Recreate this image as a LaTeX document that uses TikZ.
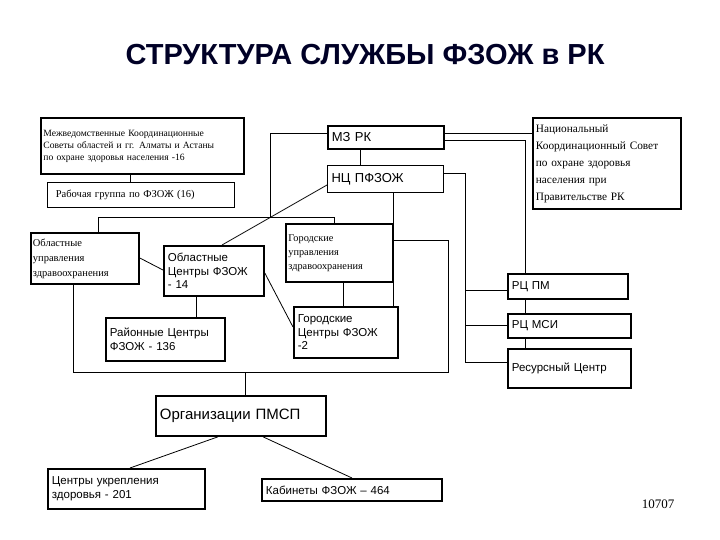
\documentclass[tikz,border=0pt]{standalone}
\usepackage{fontspec}
\setmainfont{Liberation Serif}
\newfontfamily\arial{Liberation Sans}
\begin{document}
\begin{tikzpicture}[x=1pt,y=-1pt,
  bx/.style={draw,line width=1.8pt,anchor=north west,inner sep=3pt,align=left,font=\arial\fontsize{11.5}{13.5}\selectfont},
  sbx/.style={bx,font=\fontsize{9.5}{12}\selectfont},
  ln/.style={line width=0.8pt}]
\useasboundingbox (0,0) rectangle (720,540);
\node[font=\arial\bfseries\fontsize{29}{32}\selectfont,text=black!85!blue] (title) at (365,55) {СТРУКТУРА СЛУЖБЫ ФЗОЖ в РК};
\node[sbx,minimum width=203pt,minimum height=56pt,text width=198pt,inner xsep=2pt,font=\fontsize{9.6}{12}\selectfont] (mezh) at (40,117) {Межведомственные Координационные\\Советы областей и гг. Алматы и Астаны\\по охране здоровья населения -16\\[8pt]};
\node[sbx,line width=0.8pt,minimum width=187pt,minimum height=25pt,text width=180pt,font=\fontsize{10.5}{12}\selectfont] (rab) at (47,182) {\hspace{5pt}Рабочая группа по ФЗОЖ (16)};
\node[bx,minimum width=116pt,minimum height=23pt,text width=108pt,font=\arial\fontsize{13}{15}\selectfont] (mz) at (327,125) {МЗ РК};
\node[bx,line width=1.2pt,minimum width=116pt,minimum height=27pt,text width=108pt,font=\arial\fontsize{13}{15}\selectfont] (nc) at (327,165) {НЦ ПФЗОЖ};
\node[sbx,minimum width=148pt,minimum height=91pt,text width=142pt,inner xsep=2pt,font=\fontsize{11.3}{17}\selectfont] (nac) at (532,117) {Национальный\\Координационный Совет\\по охране здоровья\\населения при\\Правительстве РК};
\node[sbx,minimum width=108pt,minimum height=51pt,text width=104pt,inner xsep=1pt,font=\fontsize{10.5}{15}\selectfont] (oblu) at (30,232) {Областные\\управления\\здравоохранения};
\node[bx,minimum width=100pt,minimum height=50pt,text width=92pt] (oblc) at (163,245) {Областные\\Центры ФЗОЖ\\- 14};
\node[sbx,minimum width=107pt,minimum height=58pt,text width=102pt,inner xsep=2pt,font=\fontsize{10.3}{14}\selectfont] (goru) at (285,223) {Городские\\управления\\здравоохранения\\[6pt]};
\node[bx,minimum width=104pt,minimum height=51pt,text width=96pt] (gorc) at (293,306) {Городские\\Центры ФЗОЖ\\-2};
\node[bx,minimum width=119pt,minimum height=43pt,text width=111pt] (raion) at (105,317) {Районные Центры\\ФЗОЖ - 136};
\node[bx,minimum width=120pt,minimum height=25pt,text width=112pt] (rcpm) at (507,273) {РЦ ПМ};
\node[bx,minimum width=123pt,minimum height=24pt,text width=115pt] (rcmsi) at (507,313) {РЦ МСИ};
\node[bx,minimum width=123pt,minimum height=39pt,text width=115pt] (res) at (507,348) {Ресурсный Центр\\[10pt]};
\node[bx,minimum width=170pt,minimum height=40pt,text width=162pt,font=\arial\fontsize{15}{17}\selectfont] (org) at (155,395) {Организации ПМСП\\[12pt]};
\node[bx,minimum width=157pt,minimum height=40pt,text width=149pt] (ukr) at (47,468) {Центры укрепления\\здоровья - 201};
\node[bx,minimum width=180pt,minimum height=22pt,text width=172pt] (kab) at (261,478) {Кабинеты ФЗОЖ – 464};
\node[font=\fontsize{13}{15}\selectfont,anchor=east] (num) at (678,504) {10707};
% connectors
\coordinate (b1) at (98,217); \coordinate (b2) at (334,217); \coordinate (b3) at (270,217);
\draw[ln] (130,0 |- mezh.south) -- (130,0 |- rab.north);
\draw[ln] (mz.west |- 0,133) -- (270,133) -- (b3);
\draw[ln] (98,0 |- oblu.north) -- (b1) -- (b2) -- (334,0 |- goru.north);
\draw[ln] (360,0 |- mz.south) -- (360,0 |- nc.north);
\draw[ln] (nc.west |- 0,185) -- (222,0 |- oblc.north);
\draw[ln] (oblu.east |- 0,258) -- (oblc.west |- 0,270);
\draw[ln] (oblc.east |- 0,273) -- (gorc.west |- 0,327);
\draw[ln] (196,0 |- oblc.south) -- (196,0 |- raion.north);
\draw[ln] (343,0 |- goru.south) -- (343,0 |- gorc.north);
\draw[ln] (393,0 |- nc.south) -- (393,0 |- gorc.north);
\coordinate (r1) at (448,240); \coordinate (r2) at (448,372); \coordinate (l2) at (73,372);
\draw[ln] (goru.east |- r1) -- (r1) -- (r2) -- (l2) -- (73,0 |- oblu.south);
\draw[ln] (245,0 |- r2) -- (245,0 |- org.north);
\draw[ln] (mz.east |- 0,133) -- (nac.west |- 0,133);
\draw[ln] (mz.east |- 0,140) -- (525,140) -- (525,0 |- rcpm.north);
\coordinate (v1) at (465,173); \coordinate (v2) at (465,362);
\draw[ln] (nc.east |- v1) -- (v1) -- (v2) -- (res.west |- v2);
\draw[ln] (465,290) -- (rcpm.west |- 0,290);
\draw[ln] (465,325) -- (rcmsi.west |- 0,325);
\draw[ln] (525,0 |- rcpm.south) -- (525,0 |- rcmsi.north);
\draw[ln] (525,0 |- rcmsi.south) -- (525,0 |- res.north);
\draw[ln] (218,0 |- org.south) -- (130,0 |- ukr.north);
\draw[ln] (263,0 |- org.south) -- (352,0 |- kab.north);
\end{tikzpicture}
\end{document}
